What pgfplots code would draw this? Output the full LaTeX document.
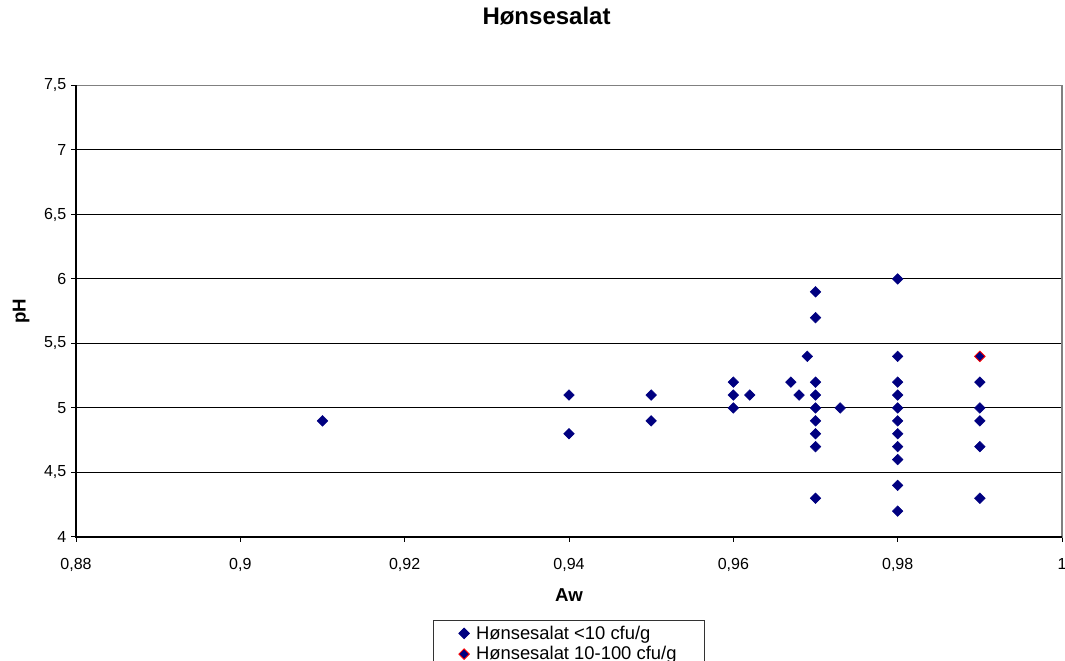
\documentclass[border=0pt]{standalone}
\usepackage{pgfplots}
\pgfplotsset{compat=1.18}
\usepackage{fontspec}
\setmainfont{Liberation Sans}
\definecolor{navy}{HTML}{000080}
\definecolor{bordergray}{HTML}{808080}
\begin{document}
\begin{tikzpicture}
\begin{axis}[
  name=ax,
  scale only axis,
  width=739.5pt, height=338.6pt,
  xmin=0.88, xmax=1, ymin=4, ymax=7.5,
  xtick={0.88,0.9,0.92,0.94,0.96,0.98,1},
  ytick={4,4.5,5,5.5,6,6.5,7,7.5},
  ymajorgrids,
  major grid style={black, line width=0.7pt},
  axis line style={draw=bordergray, line width=0.9pt},
  tick pos=left,
  tick align=outside,
  major tick length=3.75pt,
  tick style={black, line width=0.7pt},
  /pgf/number format/.cd, use comma, assume math mode=true,
  /pgfplots/.cd,
  ticklabel style={font=\fontsize{12}{14}\selectfont},
  xticklabel style={yshift=-9pt},
  title={Hønsesalat},
  title style={font=\bfseries\fontsize{18}{22}\selectfont, at={(axis description cs:0.4772,1.1353)}, anchor=center},
  xlabel={Aw},
  xlabel style={font=\bfseries\fontsize{14}{17}\selectfont, at={(axis description cs:0.5,-0.1286)}, anchor=center},
  ylabel={pH},
  ylabel style={font=\bfseries\fontsize{14}{17}\selectfont, at={(axis description cs:-0.0557,0.5)}, anchor=center},
  legend style={at={(axis description cs:0.5,-0.184)}, anchor=north, draw=black!80, line width=0.6pt,
    font=\fontsize{13.8}{16}\selectfont, cells={anchor=west}, inner xsep=19pt, inner ysep=2pt, row sep=0pt,
    /tikz/every odd column/.append style={column sep=3pt}},
  legend cell align=left,
]
\addplot[only marks, mark=square*, mark size=2.8pt, mark options={rotate=45, fill=navy, draw=navy}]
coordinates {
(0.91,4.9)
(0.94,5.1) (0.94,4.8)
(0.95,5.1) (0.95,4.9)
(0.96,5.2) (0.96,5.1) (0.96,5.0)
(0.962,5.1)
(0.967,5.2)
(0.968,5.1)
(0.969,5.4)
(0.97,5.9) (0.97,5.7) (0.97,5.2) (0.97,5.1) (0.97,5.0) (0.97,4.9) (0.97,4.8) (0.97,4.7) (0.97,4.3)
(0.973,5.0)
(0.98,6.0) (0.98,5.4) (0.98,5.2) (0.98,5.1) (0.98,5.0) (0.98,4.9) (0.98,4.8) (0.98,4.7) (0.98,4.6) (0.98,4.4) (0.98,4.2)
(0.99,5.2) (0.99,5.0) (0.99,4.9) (0.99,4.7) (0.99,4.3)
};
\addlegendentry{Hønsesalat <10 cfu/g}
\addplot[only marks, mark=square*, mark size=2.8pt, mark options={rotate=45, fill=navy, draw=red, line width=0.6pt}]
coordinates {
(0.99,5.4)
};
\addlegendentry{Hønsesalat 10-100 cfu/g}
\end{axis}
\draw[black, line width=0.9pt] (ax.north west) -- (ax.south west) -- (ax.south east);
\pgfresetboundingbox
\path ([xshift=-57pt,yshift=-93pt]ax.south west) rectangle ([xshift=2.25pt,yshift=64.1pt]ax.north east);
\end{tikzpicture}
\end{document}
